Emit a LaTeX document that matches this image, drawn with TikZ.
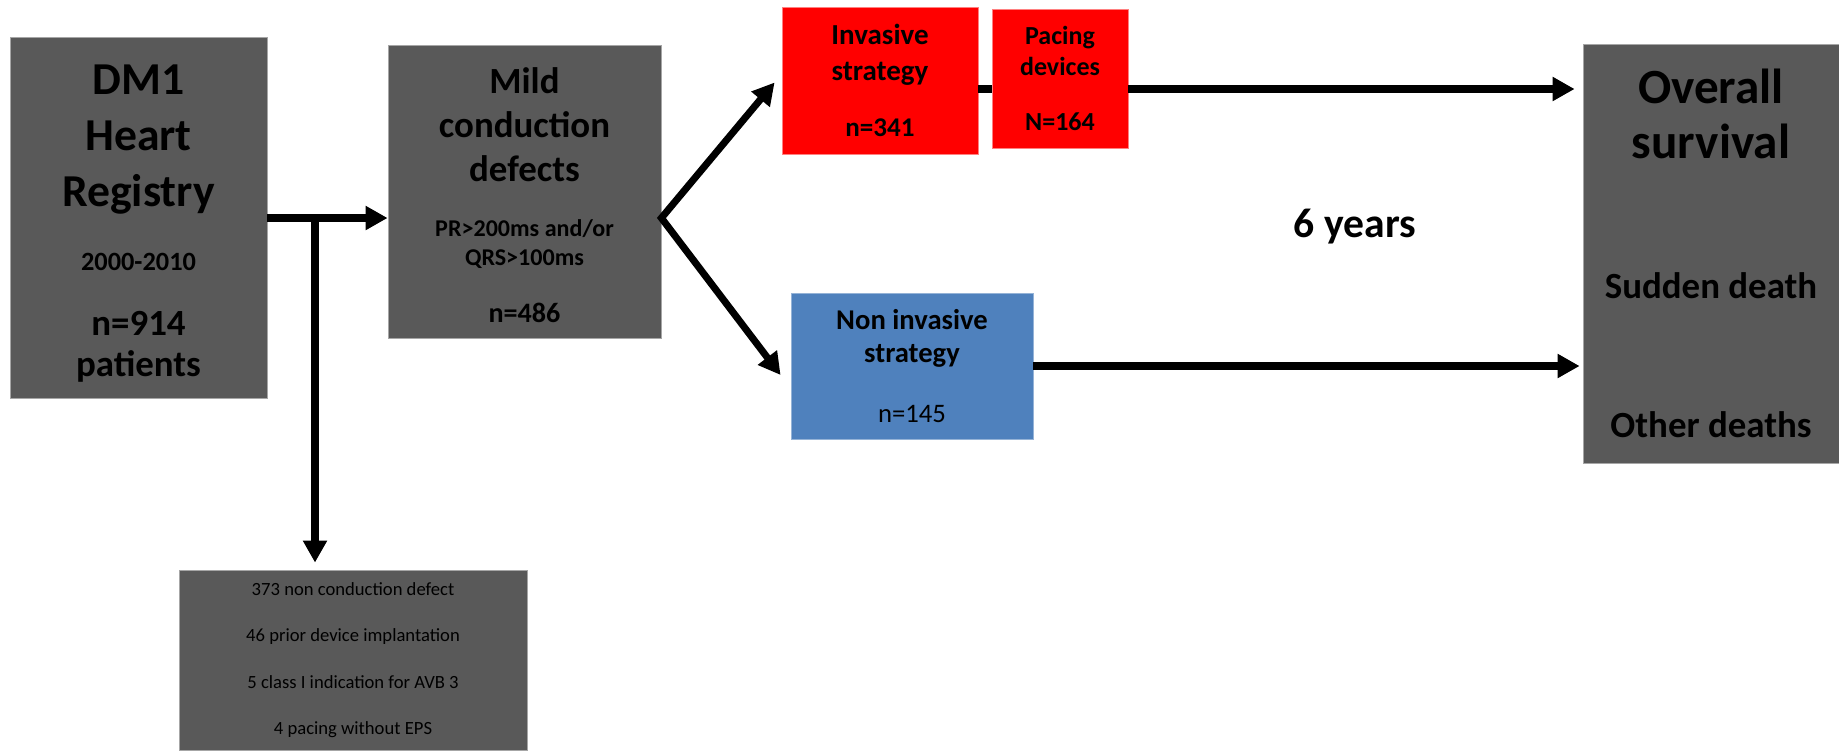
\documentclass[tikz,border=0pt]{standalone}
\usepackage{fontspec}
\setmainfont{Carlito}
\usetikzlibrary{arrows.meta, positioning}
\definecolor{dmGrey}{HTML}{595959}
\definecolor{dmGreyLine}{HTML}{A6A6A6}
\definecolor{dmRed}{HTML}{FF0000}
\definecolor{dmRedLine}{HTML}{FF8080}
\definecolor{dmBlue}{HTML}{4F81BD}
\definecolor{dmBlueLine}{HTML}{95B3D7}
\tikzset{
  bigtip/.tip      = {Triangle[length=12.5pt, width=13pt]},
  conn/.style      = {line width=4pt, black},
  flow/.style      = {-bigtip, line width=4pt, black},
  box/.style       = {rectangle, inner sep=0pt, line width=0.5pt, align=center},
  greybox/.style   = {box, fill=dmGrey, draw=dmGreyLine},
  redbox/.style    = {box, fill=dmRed, draw=dmRedLine},
  bluebox/.style   = {box, fill=dmBlue, draw=dmBlueLine},
}
\newcommand{\fsz}[1]{\fontsize{#1}{#1}\selectfont}

\begin{document}
\begin{tikzpicture}[x=0.02cm, y=-0.02cm]
  \useasboundingbox (0,0) rectangle (1839,751);
  % boxes
  \node[greybox, minimum width=5.14cm, minimum height=7.22cm,
        font=\bfseries\fontsize{26pt}{32pt}\selectfont] (reg) at (138.5,217.5)
    {\rule{0pt}{23.5pt}DM1\\Heart\\Registry\\[4.3pt]{\fsz{15pt}2000-2010}\\[4.8pt]{\fsz{21pt}n=914}\\[-8.6pt]{\fsz{21pt}patients}};
  \node[greybox, minimum width=5.46cm, minimum height=5.86cm,
        font=\bfseries\fontsize{21pt}{25pt}\selectfont] (mild) at (524.5,191.5)
    {\rule{0pt}{18.7pt}Mild\\conduction\\defects\\[6.7pt]{\fsz{13.7pt}PR>200ms and/or}\\[-8.6pt]{\fsz{13.7pt}QRS>100ms}\\[7.3pt]{\fsz{16pt}n=486}};
  \node[redbox, minimum width=3.92cm, minimum height=2.94cm,
        font=\bfseries\fontsize{16.5pt}{20.4pt}\selectfont] (inv) at (880,80.5)
    {Invasive\\strategy\\[11.3pt]{\fsz{15.4pt}n=341}};
  \node[redbox, minimum width=2.72cm, minimum height=2.78cm,
        font=\bfseries\fontsize{14.8pt}{17.6pt}\selectfont] (pace) at (1060,78.5)
    {Pacing\\devices\\[14.1pt]N=164};
  \node[bluebox, minimum width=4.84cm, minimum height=2.92cm,
        font=\bfseries\fontsize{16.3pt}{18.7pt}\selectfont] (noninv) at (912,366)
    {Non invasive\\strategy\\[15.3pt]{\mdseries\fsz{15.2pt}n=145}};
  \node[greybox, minimum width=5.12cm, minimum height=8.38cm,
        font=\bfseries\fontsize{28pt}{31.2pt}\selectfont] (surv) at (1711,253.5)
    {Overall\\survival\\[48.2pt]{\fsz{21pt}Sudden death}\\[48.2pt]{\fsz{21pt}Other deaths}};
  \node[greybox, minimum width=6.96cm, minimum height=3.6cm,
        font=\fontsize{10.6pt}{26.5pt}\selectfont] (excl) at (353,660)
    {373 non conduction defect\\46 prior device implantation\\5 class I indication for AVB 3\\4 pacing without EPS};
  \node[font=\bfseries\fontsize{23.7pt}{28pt}\selectfont, anchor=base] (yrs) at (1355,237) {6 years};
  % connectors
  \coordinate (split) at (315,218);
  \coordinate (fork) at (split -| mild.east);
  \coordinate (toprow) at (980,89);
  \draw[flow] (split -| reg.east) -- (split -| mild.west);
  \draw[flow, shorten >=0.14cm] (split) -- (split |- excl.north);
  \draw[bigtip-bigtip, line width=4pt] ([shift={(-7,2)}]inv.west) -- (fork) -- ([shift={(-10,9)}]noninv.west);
  \draw[conn] (inv.east |- toprow) -- (pace.west |- toprow);
  \draw[flow, shorten >=0.16cm] (pace.east |- toprow) -- (surv.west |- toprow);
  \draw[flow, shorten >=0.06cm] (noninv.east) -- (noninv.east -| surv.west);
\end{tikzpicture}
\end{document}
